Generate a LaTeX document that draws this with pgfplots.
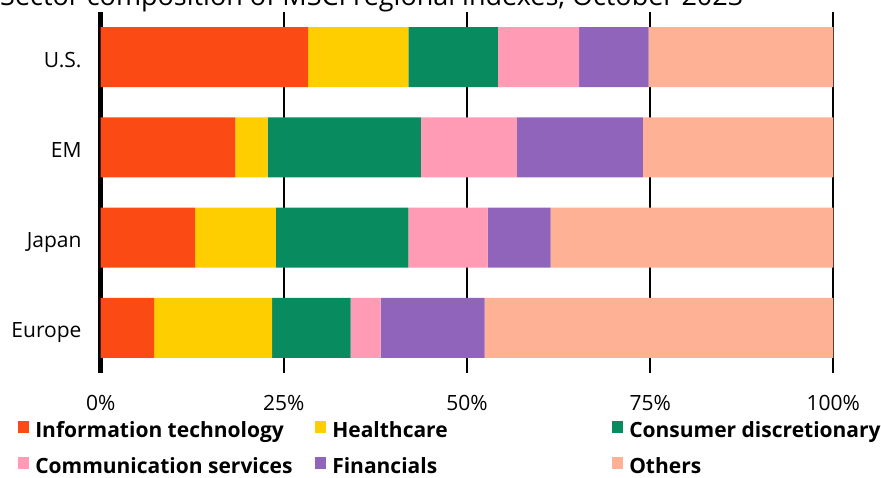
\documentclass[border=0pt]{standalone}
\usepackage{fontspec}
\setmainfont{Open Sans}
\usepackage{pgfplots}
\pgfplotsset{compat=1.18}

\definecolor{cIT}{HTML}{FC4A14}
\definecolor{cHC}{HTML}{FFCE00}
\definecolor{cCD}{HTML}{088B5E}
\definecolor{cCS}{HTML}{FF9BB5}
\definecolor{cFin}{HTML}{9164BC}
\definecolor{cOth}{HTML}{FFB195}

\pgfplotsset{
  sq/.style={legend image code/.code={\fill[##1] (0pt,-1.5pt) rectangle (11pt,10.5pt); \path (17pt,0pt);}},
}
\newcommand{\leg}[1]{\makebox[280pt][l]{\bfseries #1}}

\begin{document}
\begin{tikzpicture}
\begin{axis}[
  scale only axis,
  width=732.6pt, height=360pt,
  xbar stacked,
  bar width=60pt,
  xmin=0, xmax=100,
  ymin=-0.493, ymax=3.493,
  axis lines*=left,
  axis line style={draw=none},
  major tick length=0pt,
  xtick={0,25,50,75,100},
  xticklabels={0\%,25\%,50\%,75\%,100\%},
  extra x ticks={0},
  extra x tick labels={},
  extra x tick style={grid style={black, line width=5.5pt}},
  xmajorgrids,
  grid style={black, line width=2pt},
  ytick={0,1,2,3},
  yticklabels={Europe,Japan,EM,U.S.},
  xticklabel style={font=\fontsize{21}{25}\selectfont, anchor=base, yshift=-38pt},
  yticklabel style={font=\fontsize{21}{25}\selectfont, anchor=base east, inner sep=0pt, xshift=-19pt, yshift=-10pt},
  legend columns=3,
  legend cell align=left,
  legend style={at={(axis description cs:-0.1125,-0.1355)}, anchor=north west,
    draw=none, fill=none, inner sep=0pt, outer sep=0pt,
    column sep=0pt, row sep=15.2pt,
    font=\fontsize{21}{25}\selectfont,
    nodes={inner sep=0pt, text height=16pt, text depth=5pt}},
]
% order of rows: Europe (0), Japan (1), EM (2), U.S. (3)
\addplot[fill=cIT, draw=none, sq] coordinates {(7.3,0) (12.9,1) (18.4,2) (28.3,3)};
\addlegendentry{\leg{Information technology}}
\addplot[fill=cHC, draw=none, sq] coordinates {(16.1,0) (11.0,1) (4.4,2) (13.7,3)};
\addlegendentry{\leg{Healthcare}}
\addplot[fill=cCD, draw=none, sq] coordinates {(10.7,0) (18.1,1) (20.9,2) (12.2,3)};
\addlegendentry{\leg{Consumer discretionary}}
\addplot[fill=cCS, draw=none, sq] coordinates {(4.1,0) (10.8,1) (13.1,2) (11.1,3)};
\addlegendentry{\leg{Communication services}}
\addplot[fill=cFin, draw=none, sq] coordinates {(14.2,0) (8.6,1) (17.2,2) (9.5,3)};
\addlegendentry{\leg{Financials}}
\addplot[fill=cOth, draw=none, sq] coordinates {(47.6,0) (38.6,1) (26.0,2) (25.2,3)};
\addlegendentry{\leg{Others}}
\end{axis}
\node[anchor=base west, inner sep=0pt, font=\fontsize{27}{31}\selectfont] at (-100.7pt,366.5pt)
  {Sector composition of MSCI regional indexes, October 2023};
\pgfresetboundingbox
\useasboundingbox (-100.7pt,-104.5pt) rectangle (780.3pt,372.5pt);
\end{tikzpicture}
\end{document}
